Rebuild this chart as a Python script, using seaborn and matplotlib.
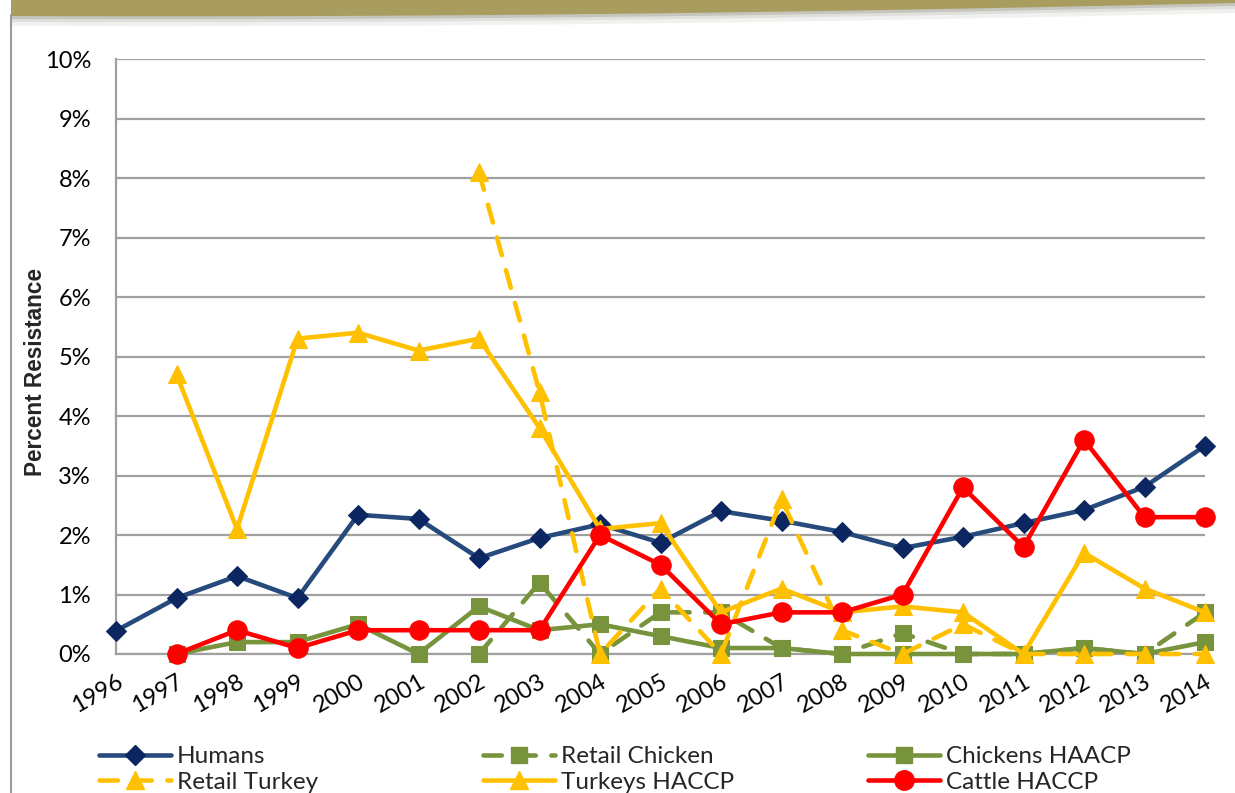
import numpy as np
import pandas as pd
import matplotlib
matplotlib.use("Agg")
import matplotlib.pyplot as plt
import seaborn as sns
from matplotlib.patches import Polygon
from matplotlib.lines import Line2D
from matplotlib.font_manager import FontProperties

sns.set_theme(style="white")
plt.rcParams['font.family'] = ['Lato', 'DejaVu Sans']

years = list(range(1996, 2015))
nan = np.nan
humans = [0.39, 0.94, 1.31, 0.94, 2.34, 2.27, 1.61, 1.95, 2.18, 1.87, 2.40, 2.24, 2.05, 1.78, 1.97, 2.20, 2.42, 2.81, 3.50]
retail_chicken = [nan]*6 + [0.0, 1.2, 0.0, 0.7, 0.7, 0.1, 0.0, 0.35, 0.0, 0.0, 0.1, 0.0, 0.7]
chickens_haacp = [nan, 0.0, 0.2, 0.2, 0.5, 0.0, 0.8, 0.4, 0.5, 0.3, 0.1, 0.1, 0.0, 0.0, 0.0, 0.0, 0.1, 0.0, 0.2]
retail_turkey = [nan]*6 + [8.1, 4.4, 0.0, 1.1, 0.0, 2.6, 0.4, 0.0, 0.5, 0.0, 0.0, 0.0, 0.0]
turkeys_haccp = [nan, 4.7, 2.1, 5.3, 5.4, 5.1, 5.3, 3.8, 2.1, 2.2, 0.7, 1.1, 0.7, 0.8, 0.7, 0.0, 1.7, 1.1, 0.7]
cattle_haccp = [nan, 0.0, 0.4, 0.1, 0.4, 0.4, 0.4, 0.4, 2.0, 1.5, 0.5, 0.7, 0.7, 1.0, 2.8, 1.8, 3.6, 2.3, 2.3]
y_ticks = list(range(0, 11))

W, H = 1235, 793
fig = plt.figure(figsize=(W/100, H/100), dpi=100)
fig.patch.set_facecolor('white')

# decorative banner at top
xs = np.linspace(11, W, 200)
bottom_curve = 16 - 13*((xs-11)/(W-11))**1.6 + 2*np.sin(np.pi*(xs-11)/(W-11))
for alpha, off in [(0.10, 10), (0.15, 6), (0.25, 3)]:
    pts = np.column_stack([np.r_[xs, xs[::-1]], np.r_[bottom_curve+off, np.zeros_like(xs)]])
    fig.patches.append(Polygon(np.column_stack([pts[:, 0]/W, 1-pts[:, 1]/H]), closed=True,
                               transform=fig.transFigure, facecolor='#7a7a6a', alpha=alpha, edgecolor='none'))
pts = np.column_stack([np.r_[xs, xs[::-1]], np.r_[bottom_curve, np.zeros_like(xs)]])
fig.patches.append(Polygon(np.column_stack([pts[:, 0]/W, 1-pts[:, 1]/H]), closed=True,
                           transform=fig.transFigure, facecolor='#a89c5e', edgecolor='none'))
fig.add_artist(Line2D([11/W, 11/W], [0, 1-15/H], transform=fig.transFigure, color='#9a9a9a', lw=1.5))

ax = fig.add_axes([116/W, 1-654/H, (1205-116)/W, (654-59)/H])

lw = 3.3
dash = (0, (4.0, 3.4))
series = [
    ("Humans", humans, '#254a7b', 'D', 10, '#0b2660', '-'),
    ("Retail Chicken", retail_chicken, '#77933c', 's', 12, '#77933c', dash),
    ("Chickens HAACP", chickens_haacp, '#77933c', 's', 12, '#77933c', '-'),
    ("Retail Turkey", retail_turkey, '#ffc000', '^', 13, '#ffc000', dash),
    ("Turkeys HACCP", turkeys_haccp, '#ffc000', '^', 13, '#ffc000', '-'),
    ("Cattle HACCP", cattle_haccp, '#ff0000', 'o', 14, '#ff0000', '-'),
]
handles = {}
for i, (name, vals, col, mk, ms, mcol, ls) in enumerate(series):
    df = pd.DataFrame({"Year": years, "Value": vals}).dropna()
    sns.lineplot(data=df, x="Year", y="Value", ax=ax, color=col, marker=mk, markersize=ms,
                 markerfacecolor=mcol, markeredgecolor=mcol, linewidth=lw, linestyle=ls,
                 clip_on=False, zorder=3+i, legend=False)
    ax.lines[-1].set_dash_capstyle('round')
    handles[name] = Line2D([0], [0], color=col, lw=lw, linestyle=ls, marker=mk, markersize=ms,
                           markerfacecolor=mcol, markeredgecolor=mcol, dash_capstyle='round')

ax.set_xlim(1996, 2014)
ax.set_ylim(0, 10)
ax.set_yticks(y_ticks)
ax.set_yticklabels([f"{t}%" for t in y_ticks], fontsize=17)
ax.set_xticks(years)
ax.set_xticklabels([str(y) for y in years], fontsize=17, rotation=30, ha='right', rotation_mode='anchor')
ax.yaxis.grid(True, color='#a0a0a0', lw=1.6)
ax.xaxis.grid(False)
for s in ['top', 'right']:
    ax.spines[s].set_visible(False)
for s in ['left', 'bottom']:
    ax.spines[s].set_color('#a0a0a0')
    ax.spines[s].set_linewidth(1.6)
ax.tick_params(axis='both', which='both', length=6, width=1.6, color='#a0a0a0', direction='out',
               labelcolor='black')
ax.tick_params(axis='y', pad=12)
ax.tick_params(axis='x', pad=6)
ax.set_xlabel("")
ax.set_ylabel("Percent Resistance",
              fontproperties=FontProperties(family='Liberation Sans', weight='bold', size=16.3))
ax.yaxis.set_label_coords((47-116)/(1205-116), (654-372)/(654-59))

cols = [(99, ["Humans", "Retail Turkey"]), (483, ["Retail Chicken", "Turkeys HACCP"]), (868, ["Chickens HAACP", "Cattle HACCP"])]
for x0, names in cols:
    fig.legend([handles[n] for n in names], names, loc='upper left',
               bbox_to_anchor=(x0/W, 1-746/H), frameon=False, fontsize=17.5,
               handlelength=2.95, handletextpad=0.25, labelspacing=0.2, borderpad=0, borderaxespad=0)

fig.savefig("out.png", dpi=100)
